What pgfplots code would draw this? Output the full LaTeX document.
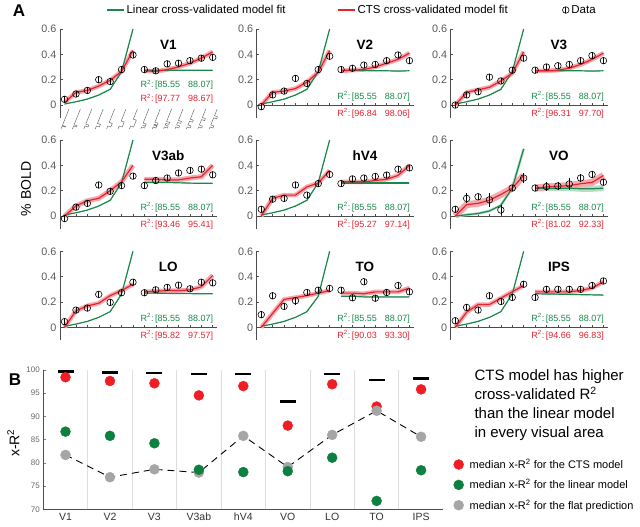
\documentclass[border=0pt]{standalone}
\usepackage{pgfplots}
\pgfplotsset{compat=1.18}
\usepackage{pgfplotstable}
\usepackage{fontspec}
\setmainfont{Liberation Sans}
\definecolor{lingreen}{RGB}{26,135,75}
\definecolor{ctsred}{RGB}{230,35,45}
\definecolor{pinkband}{RGB}{246,170,175}
\definecolor{flatgrey}{RGB}{165,165,165}
\definecolor{dotgreen}{RGB}{12,128,62}
\definecolor{dotred}{RGB}{238,30,36}

% columns: x, data, error, CTS fit, linear fit
\pgfplotstableread{
x d e r g
1 0.045 0.025 0.02 0.008
2 0.087 0.025 0.10 0.026
3 0.115 0.025 0.115 0.047
4 0.200 0.025 0.15 0.079
5 0.185 0.025 0.195 0.124
6 0.280 0.025 0.265 0.263
7 0.395 0.025 0.43 0.60
8 0.280 0.025 0.27 0.275
9 0.270 0.025 0.265 0.275
10 0.325 0.025 0.28 0.275
11 0.330 0.025 0.30 0.275
12 0.350 0.025 0.33 0.274
13 0.370 0.025 0.37 0.274
14 0.376 0.025 0.42 0.274
}\tVone
\pgfplotstableread{
x d e r g
1 -0.013 0.025 0.0 0.008
2 0.08 0.025 0.10 0.026
3 0.11 0.025 0.11 0.047
4 0.21 0.025 0.13 0.079
5 0.17 0.025 0.18 0.124
6 0.28 0.025 0.26 0.263
7 0.385 0.025 0.43 0.60
8 0.28 0.025 0.27 0.275
9 0.29 0.025 0.275 0.275
10 0.315 0.025 0.28 0.272
11 0.32 0.025 0.30 0.270
12 0.35 0.025 0.33 0.270
13 0.395 0.025 0.36 0.268
14 0.35 0.025 0.41 0.270
}\tVtwo
\pgfplotstableread{
x d e r g
1 0.0 0.025 0.0 0.008
2 0.08 0.025 0.10 0.026
3 0.105 0.025 0.12 0.047
4 0.22 0.025 0.14 0.079
5 0.19 0.025 0.19 0.124
6 0.275 0.025 0.25 0.263
7 0.37 0.025 0.42 0.60
8 0.275 0.025 0.27 0.27
9 0.30 0.025 0.27 0.27
10 0.31 0.025 0.275 0.27
11 0.32 0.025 0.29 0.27
12 0.35 0.025 0.32 0.27
13 0.39 0.025 0.36 0.268
14 0.35 0.025 0.41 0.27
}\tVthree
\pgfplotstableread{
x d e r g
1 -0.02 0.025 0.0 0.008
2 0.07 0.025 0.08 0.026
3 0.10 0.025 0.12 0.047
4 0.245 0.025 0.14 0.079
5 0.195 0.025 0.20 0.124
6 0.24 0.025 0.27 0.263
7 0.315 0.025 0.40 0.60
8 0.24 0.025 0.29 0.265
9 0.28 0.025 0.29 0.265
10 0.30 0.025 0.285 0.265
11 0.34 0.025 0.285 0.262
12 0.36 0.025 0.30 0.26
13 0.37 0.025 0.31 0.258
14 0.325 0.025 0.40 0.258
}\tVthreeab
\pgfplotstableread{
x d e r g
1 0.053 0.025 0.0 0.008
2 0.133 0.025 0.14 0.026
3 0.139 0.025 0.165 0.047
4 0.245 0.025 0.165 0.079
5 0.165 0.025 0.23 0.124
6 0.256 0.025 0.26 0.263
7 0.328 0.025 0.36 0.60
8 0.256 0.025 0.27 0.26
9 0.293 0.025 0.27 0.26
10 0.30 0.025 0.27 0.26
11 0.312 0.025 0.28 0.26
12 0.323 0.025 0.29 0.26
13 0.37 0.025 0.32 0.26
14 0.38 0.025 0.40 0.26
}\thVfour
\pgfplotstableread{
x d e r g
1 0.053 0.025 0.0 0.0
2 0.139 0.04 0.09 0.01
3 0.152 0.025 0.10 0.02
4 0.128 0.055 0.125 0.04
5 0.048 0.04 0.17 0.085
6 0.221 0.025 0.22 0.22
7 0.30 0.04 0.32 0.53
8 0.221 0.025 0.22 0.22
9 0.232 0.035 0.23 0.22
10 0.237 0.03 0.235 0.22
11 0.253 0.045 0.24 0.22
12 0.30 0.035 0.255 0.215
13 0.328 0.03 0.265 0.215
14 0.267 0.025 0.32 0.22
}\tVO
\pgfplotstableread{
x d e r g
1 0.045 0.025 0.0 0.008
2 0.136 0.025 0.13 0.026
3 0.152 0.025 0.17 0.047
4 0.26 0.025 0.19 0.079
5 0.197 0.025 0.25 0.124
6 0.273 0.025 0.29 0.263
7 0.356 0.025 0.34 0.60
8 0.273 0.025 0.28 0.27
9 0.296 0.025 0.285 0.27
10 0.315 0.025 0.29 0.268
11 0.333 0.025 0.29 0.267
12 0.304 0.025 0.295 0.266
13 0.356 0.025 0.32 0.265
14 0.351 0.025 0.41 0.265
}\tLO
\pgfplotstableread{
x d e r g
1 0.10 0.025 0.0 0.008
2 0.249 0.025 0.11 0.026
3 0.165 0.025 0.22 0.047
4 0.21 0.03 0.235 0.079
5 0.275 0.025 0.25 0.124
6 0.293 0.025 0.27 0.245
7 0.307 0.025 0.29 0.60
8 0.293 0.025 0.27 0.245
9 0.233 0.025 0.27 0.245
10 0.36 0.025 0.265 0.24
11 0.23 0.025 0.28 0.24
12 0.275 0.025 0.28 0.24
13 0.33 0.025 0.28 0.24
14 0.28 0.025 0.31 0.24
}\tTO
\pgfplotstableread{
x d e r g
1 0.052 0.025 0.0 0.008
2 0.157 0.025 0.12 0.026
3 0.136 0.025 0.18 0.047
4 0.249 0.025 0.18 0.079
5 0.204 0.025 0.23 0.124
6 0.236 0.025 0.28 0.263
7 0.34 0.025 0.33 0.60
8 0.236 0.025 0.28 0.265
9 0.30 0.025 0.28 0.263
10 0.30 0.025 0.28 0.262
11 0.30 0.025 0.28 0.26
12 0.30 0.025 0.29 0.258
13 0.33 0.025 0.31 0.256
14 0.366 0.025 0.36 0.255
}\tIPS

\pgfplotsset{
  panelA/.style={
    scale only axis, width=157.3pt, height=88.7pt,
    xmin=0.6, xmax=14.4, ymin=-0.1, ymax=0.6,
    axis y line=left, axis x line=middle,
    axis line style={-, black!70, line width=0.6pt},
    every inner x axis line/.append style={-},
    every outer x axis line/.append style={-},
    every inner y axis line/.append style={-},
    every outer y axis line/.append style={-},
    xtick={1,...,14}, xticklabels={},
    ytick={0,0.2,0.4,0.6}, yticklabels={0,0.2,0.4,0.6},
    /pgf/number format/assume math mode=true,
    tick style={black!70, line width=0.5pt}, major tick length=2.5pt,
    tick align=inside,
    yticklabel style={font=\fontsize{10.8}{12}\selectfont, text=black!65},
    clip=false,
  },
  toplegend/.style={hide axis, scale only axis, width=640pt, height=527pt,
    at={(0pt,-527pt)}, anchor=south west, xmin=0, xmax=1, ymin=0, ymax=1,
    legend style={anchor=west, draw=none, fill=none,
      font=\fontsize{11.5}{13}\selectfont}},
}
\newcommand{\rtext}{\fontsize{9}{10}\selectfont}
\def\redshift{-17pt}
% #1 x, #2 y bottom, #3 title, #4 table, #5 CTS R2, #6 red band, #7 green band, #8 R2 y, #9 extra
\newcommand{\panel}[9]{%
\begin{axis}[panelA, at={(#1pt,-#2pt)}, anchor=south west, #9]
\addplot[draw=lingreen!30, line width={0.45*#7}, line join=round, restrict x to domain=1:7] table[x=x,y=g]{#4};
\addplot[draw=lingreen!30, line width=#7, line join=round, restrict x to domain=8:14] table[x=x,y=g]{#4};
\addplot[draw=pinkband, line width=#6, line join=round, restrict x to domain=1:7] table[x=x,y=r]{#4};
\addplot[draw=pinkband, line width=#6, line join=round, restrict x to domain=8:14] table[x=x,y=r]{#4};
\addplot[lingreen, line width=1.2pt, restrict x to domain=1:7] table[x=x,y=g]{#4};
\addplot[lingreen, line width=1.2pt, restrict x to domain=8:14] table[x=x,y=g]{#4};
\addplot[ctsred, line width=1.2pt, restrict x to domain=1:7] table[x=x,y=r]{#4};
\addplot[ctsred, line width=1.2pt, restrict x to domain=8:14] table[x=x,y=r]{#4};
\addplot[only marks, mark=o, mark size=3.3pt, mark options={black, line width=0.6pt},
  error bars/.cd, y dir=both, y explicit, error mark=none,
  error bar style={black, line width=0.7pt}] table[x=x,y=d,y error=e]{#4};
\node[font=\bfseries\fontsize{13.5}{15}\selectfont] at (axis cs:10.1,0.475) {#3};
\node[anchor=east, text=lingreen, font=\rtext] at (axis cs:14.35,#8) {R\textsuperscript{2}:\,[85.55\hspace{0.9em}88.07]};
\node[anchor=east, text=ctsred, font=\rtext, yshift=\redshift] at (axis cs:14.35,#8) {R\textsuperscript{2}:\,[#5]};
\end{axis}}

\begin{document}
\begin{tikzpicture}
\useasboundingbox (0,0) rectangle (640pt,-527pt);

% top legend (three hidden full-size axes)
\begin{axis}[toplegend, legend style={at={(103/640,0.981)}}]
\addlegendimage{lingreen, line width=1.3pt}
\addlegendentry{Linear cross-validated model fit}
\end{axis}
\begin{axis}[toplegend, legend style={at={(334/640,0.981)}}]
\addlegendimage{ctsred, line width=1.3pt}
\addlegendentry{CTS cross-validated model fit}
\end{axis}
\begin{axis}[toplegend, legend style={at={(559/640,0.981)}}]
\addlegendimage{legend image code/.code={\draw[black, line width=0.6pt] (0.3cm,0pt) circle (3.3pt); \draw[black, line width=0.7pt] (0.3cm,-3.3pt)--(0.3cm,3.3pt);}}
\addlegendentry{Data}
\end{axis}

\def\redshift{-14pt}
\panel{60}{117.7}{V1}{\tVone}{97.77\hspace{0.9em}98.67}{4.5pt}{0pt}{0.16}{axis x line=none}
\def\redshift{-17pt}
\panel{256.7}{117.7}{V2}{\tVtwo}{96.84\hspace{0.9em}98.06}{4.5pt}{0pt}{0.07}{}
\panel{450.7}{117.7}{V3}{\tVthree}{96.31\hspace{0.9em}97.70}{4.5pt}{0pt}{0.07}{}
\panel{60}{228.7}{V3ab}{\tVthreeab}{93.46\hspace{0.9em}95.41}{5pt}{0pt}{0.07}{}
\panel{256.7}{228.7}{hV4}{\thVfour}{95.27\hspace{0.9em}97.14}{4.5pt}{0pt}{0.07}{}
\panel{450.7}{228.7}{VO}{\tVO}{81.02\hspace{0.9em}92.33}{7pt}{6pt}{0.07}{}
\panel{60}{340}{LO}{\tLO}{95.82\hspace{0.9em}97.57}{4.5pt}{0pt}{0.07}{}
\panel{256.7}{340}{TO}{\tTO}{90.03\hspace{0.9em}93.30}{4.5pt}{0pt}{0.07}{}
\panel{450.7}{340}{IPS}{\tIPS}{94.66\hspace{0.9em}96.83}{4.5pt}{0pt}{0.07}{}

% stimulus icons under V1
\foreach \k/\d in {0/0.03,1/0.06,2/0.09,3/0.13,4/0.18,5/0.25,6/0.34}{
  \begin{scope}[shift={({(61+11.4*\k)*1pt},-129pt)}, x={(8pt,20pt)}, y={(3pt,-1pt)}]
    \draw[black!55, line width=0.5pt] (0,0)--(0.15,0)--(0.15,1)--({0.15+\d},1)--({0.15+\d},0)--(1,0);
  \end{scope}}
\foreach \k/\d in {7/0.0,8/0.04,9/0.08,10/0.13,11/0.19,12/0.27,13/0.36}{
  \begin{scope}[shift={({(61+11.4*\k)*1pt},-129pt)}, x={(8pt,20pt)}, y={(3pt,-1pt)}]
    \draw[black!55, line width=0.5pt] (0,0)--(0.1,0)--(0.1,1)--(0.2,1)--(0.2,0)--({0.2+\d},0)--({0.2+\d},1)--({0.3+\d},1)--({0.3+\d},0)--(1,0);
  \end{scope}}

% labels
\node[font=\bfseries\fontsize{17}{19}\selectfont] at (19pt,-11pt) {A};
\node[font=\bfseries\fontsize{17}{19}\selectfont] at (15pt,-380pt) {B};
\node[rotate=90, font=\fontsize{14}{16}\selectfont] at (26pt,-189pt) {\% BOLD};

% panel B
\begin{axis}[at={(43.3pt,-509.3pt)}, anchor=south west, scale only axis,
  width=400pt, height=139.5pt,
  xmin=0.5, xmax=9.5, ymin=70, ymax=100,
  axis lines=left, axis line style={-, black!70, line width=0.6pt},
  every outer x axis line/.append style={-},
  every outer y axis line/.append style={-},
  xtick={1,...,9}, xticklabels={V1,V2,V3,V3ab,hV4,VO,LO,TO,IPS},
  major x tick style={draw=none},
  extra x ticks={1.5,2.5,3.5,4.5,5.5,6.5,7.5,8.5}, extra x tick labels={},
  extra x tick style={grid=major, tick style={black!70, line width=0.6pt}},
  major grid style={black!13, line width=0.9pt},
  ytick={70,75,80,85,90,95,100},
  tick align=inside, major tick length=3pt,
  /pgf/number format/assume math mode=true,
  yticklabel style={font=\fontsize{8}{9}\selectfont, text=black!60},
  xticklabel style={font=\fontsize{10.5}{12}\selectfont, text=black!80},
  clip=false,
  legend style={at={(1.018,0.39)}, anchor=north west, draw=none, fill=none,
    font=\fontsize{11}{12}\selectfont, row sep=5.5pt,
    /tikz/every odd column/.append style={column sep=4pt}},
  legend cell align=left]
\addlegendimage{only marks, mark=*, mark size=5pt, dotred}
\addlegendentry{median x-R\textsuperscript{2} for the CTS model}
\addlegendimage{only marks, mark=*, mark size=5pt, dotgreen}
\addlegendentry{median x-R\textsuperscript{2} for the linear model}
\addlegendimage{only marks, mark=*, mark size=5pt, flatgrey}
\addlegendentry{median x-R\textsuperscript{2} for the flat prediction}
\addplot[black, line width=0.9pt, dash pattern=on 7pt off 5pt, forget plot] coordinates {
 (1,81.7) (2,76.9) (3,78.6) (4,77.9) (5,85.8) (6,79.1) (7,86.0) (8,91.2) (9,85.6)};
\addplot[only marks, mark=-, mark size=8pt, mark options={line width=2.8pt, black}, forget plot] coordinates {
 (1,99.6) (2,99.5) (3,99.3) (4,99.1) (5,99.1) (6,93.1) (7,99.1) (8,97.8) (9,98.2)};
\addplot[only marks, mark=*, mark size=5pt, dotred, forget plot] coordinates {
 (1,98.4) (2,97.6) (3,97.1) (4,94.5) (5,96.5) (6,88.0) (7,96.9) (8,92.1) (9,95.8)};
\addplot[only marks, mark=*, mark size=5pt, flatgrey, forget plot] coordinates {
 (1,81.7) (2,76.9) (3,78.6) (4,77.9) (5,85.8) (6,79.1) (7,86.0) (8,91.2) (9,85.6)};
\addplot[only marks, mark=*, mark size=5pt, dotgreen, forget plot] coordinates {
 (1,86.7) (2,85.8) (3,84.2) (4,78.5) (5,78.0) (6,78.2) (7,81.1) (8,71.8) (9,78.4)};
\node[rotate=90, font=\fontsize{14}{16}\selectfont] at (axis description cs:-0.075,0.475) {x-R\textsuperscript{2}};
\end{axis}

\node[anchor=north west, align=left, font=\fontsize{15}{19}\selectfont] at (471pt,-366pt)
 {CTS model has higher\\cross-validated R\textsuperscript{2}\\than the linear model\\in every visual area};
\end{tikzpicture}
\end{document}
